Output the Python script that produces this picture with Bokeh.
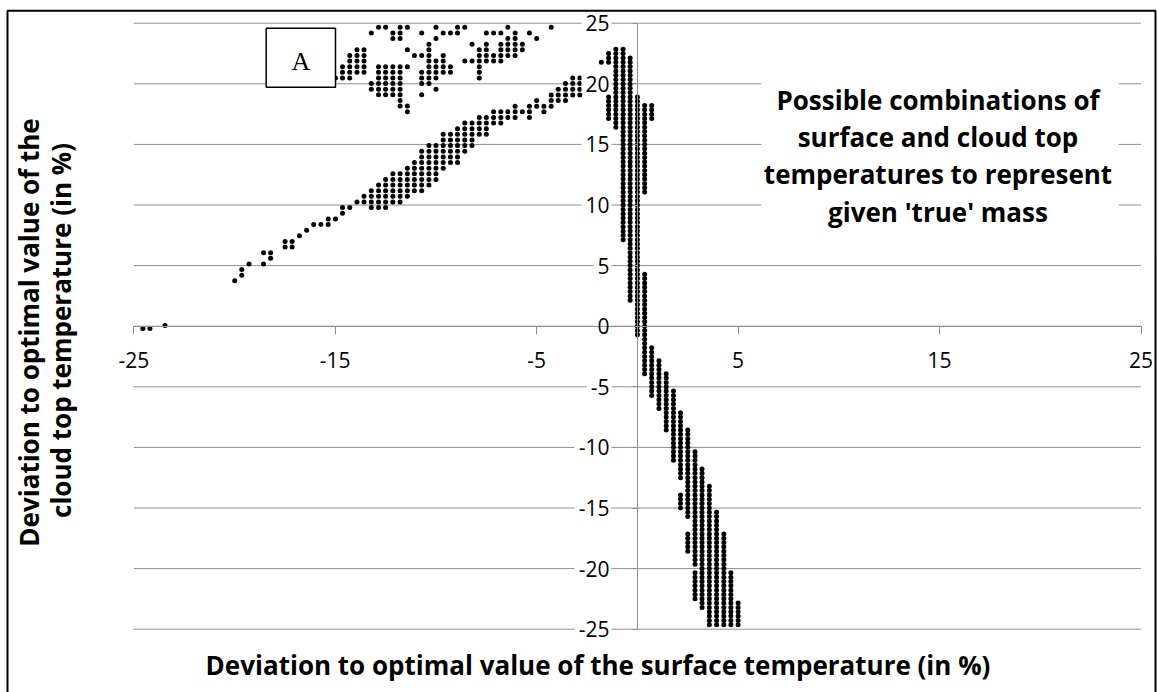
import math
from bokeh.plotting import figure
from bokeh.models import Range1d, FixedTicker
from bokeh.core.properties import value
from bokeh.embed import file_html
from bokeh.resources import INLINE

# ------------------------------------------------------------------ data
x_ticks = [-25, -15, -5, 5, 15, 25]
x_tick_labels = ["-25", "-15", "-5", "5", "15", "25"]
y_ticks = [-25, -20, -15, -10, -5, 0, 5, 10, 15, 20, 25]
y_tick_labels = ["-25", "-20", "-15", "-10", "-5", "0", "5", "10", "15", "20", "25"]

# steep band: runs of grid points per surface-temperature column (x, top y, bottom y)
steep_x = [-1.79, -1.43, -1.43, -1.07, -0.71, -0.36, 0.00, 0.36, 0.36, 0.71, 0.71,
           1.07, 1.43, 1.79, 2.14, 2.14, 2.50, 2.50, 2.86, 2.86, 3.21, 3.57, 3.93,
           4.29, 4.64, 5.00]
steep_top = [21.8, 22.5, 18.8, 22.9, 22.9, 22.0, 18.8, 18.2, 4.2, 18.2, -1.7,
             -2.7, -4.0, -5.4, -7.3, -13.8, -8.6, -17.0, -10.5, -20.3, -11.9, -13.3, -15.2,
             -17.0, -20.3, -23.0]
steep_bot = [21.8, 21.7, 17.0, 16.3, 7.0, 2.3, -0.6, 11.1, -3.8, 17.1, -5.6,
             -6.9, -8.4, -11.2, -12.6, -14.9, -15.7, -18.6, -19.7, -22.5, -23.3, -24.7, -24.7,
             -24.7, -24.7, -24.7]
STEEP_STEP = 0.357

# diagonal band: runs per column (x, top y, bottom y)
diag_x = [-19.99, -19.64, -19.28, -18.56, -18.56, -18.21, -17.49, -17.14, -16.78, -16.42,
          -16.07, -15.71, -15.35, -14.99, -14.64, -14.28, -13.92, -13.57, -13.21, -12.85,
          -12.50, -12.14, -11.78, -11.42, -11.07, -10.71, -10.35, -10.00, -9.64, -9.28,
          -8.93, -8.57, -8.21, -8.21, -7.85, -7.50, -7.14, -6.78, -6.43, -6.07,
          -5.71, -5.36, -5.00, -4.64, -4.28, -3.93, -3.57, -3.21, -2.86]
diag_top = [3.74, 4.67, 5.14, 5.14, 6.07, 6.07, 7.00, 7.00, 7.46, 7.93,
            8.39, 8.39, 8.86, 8.86, 9.79, 9.79, 10.25, 10.72, 11.18, 11.65,
            12.11, 12.58, 12.58, 13.04, 13.51, 14.44, 14.90, 14.90, 15.83, 15.83,
            16.30, 16.76, 16.76, 14.90, 17.23, 17.23, 17.69, 17.69, 17.69, 18.16,
            17.69, 18.16, 18.62, 18.16, 19.09, 19.55, 20.02, 20.48, 20.48]
diag_bot = [3.74, 4.21, 5.14, 5.14, 6.07, 5.60, 6.53, 6.53, 7.46, 7.93,
            8.39, 8.39, 8.39, 8.86, 9.32, 9.79, 10.25, 10.25, 9.79, 9.79,
            9.79, 10.25, 10.25, 10.72, 11.18, 11.18, 11.65, 12.11, 13.04, 13.51,
            13.51, 14.44, 15.37, 14.90, 15.83, 15.83, 16.76, 16.76, 17.23, 17.23,
            17.69, 17.23, 18.16, 17.69, 18.16, 18.62, 18.62, 19.09, 19.09]
DIAG_STEP = 0.465
DIAG_BASE = 3.74

# scattered upper cluster: one list of x values per row
upper_rows = [24.67, 24.20, 23.74, 23.27, 22.81, 22.34, 21.88, 21.41, 20.95, 20.48,
              20.02, 19.55, 19.09, 18.62, 18.16, 17.69]
upper_row_x = [
    [-12.85, -12.50, -11.78, -11.42, -10.00, -8.93, -8.57, -6.43, -4.28],
    [-13.21, -12.14, -11.78, -10.71, -9.64, -9.28, -8.93, -7.50, -7.14, -6.78, -6.07, -5.36],
    [-12.14, -11.78, -10.00, -6.43, -6.07, -5.00],
    [-10.35, -8.21, -7.50, -6.78, -6.43, -6.07, -5.71],
    [-13.92, -13.57, -11.42, -10.35, -7.85, -7.50, -6.78, -6.43, -6.07, -5.71],
    [-14.28, -13.92, -13.57, -11.07, -10.71, -10.35, -9.64, -7.85, -7.50, -7.14, -6.78, -6.43, -6.07],
    [-14.28, -13.92, -13.57, -10.35, -10.00, -9.64, -8.57, -8.21, -7.85, -7.50, -7.14, -6.78],
    [-14.64, -14.28, -13.92, -13.57, -12.85, -12.50, -12.14, -11.78, -11.42, -10.35, -10.00, -9.64, -9.28, -7.85],
    [-14.64, -14.28, -13.92, -13.57, -12.85, -12.50, -12.14, -11.78, -10.71, -10.35, -10.00, -9.64, -9.28, -7.85],
    [-14.99, -14.64, -14.28, -12.85, -12.50, -12.14, -11.78, -10.71, -10.35, -10.00, -7.85],
    [-13.21, -12.85, -12.50, -12.14, -11.78, -10.71, -10.35],
    [-13.21, -12.85, -12.50, -12.14, -11.78, -10.00],
    [-12.85, -12.50, -12.14, -11.78, -10.71],
    [-11.78],
    [-11.78, -11.42],
    [-11.42],
]

# isolated points near the left end of the x axis
lone_x = [-24.55, -24.20, -23.45]
lone_y = [-0.2, -0.2, 0.05]

x_title = "Deviation to optimal value of the surface temperature (in %)"
y_title_lines = ["Deviation to optimal value of the", "cloud top temperature (in %)"]
note_lines = ["Possible combinations of", "surface and cloud top",
              "temperatures to represent", "given 'true' mass"]
panel_tag = "A"


def expand_runs(xs, tops, bots, step, base):
    out_x, out_y = [], []
    for x, t, b in zip(xs, tops, bots):
        n0 = int(round((b - base) / step))
        n1 = int(round((t - base) / step))
        for n in range(n0, n1 + 1):
            out_x.append(x)
            out_y.append(round(base + n * step, 3))
    return out_x, out_y


sx, sy = expand_runs(steep_x, steep_top, steep_bot, STEEP_STEP, 0.0)
dx, dy = expand_runs(diag_x, diag_top, diag_bot, DIAG_STEP, DIAG_BASE)
ux, uy = [], []
for yv, xs in zip(upper_rows, upper_row_x):
    for xv in xs:
        ux.append(xv)
        uy.append(yv)
pts_x = sx + dx + ux + lone_x
pts_y = sy + dy + uy + lone_y

# ------------------------------------------------------------------ layout
W, H = 1158, 692
PX_L, PX_R = 133.3, 1140.5      # screen x of x=-25 and x=25
PY_T, PY_B = 22.7, 628.7        # screen y of y=25 and y=-25
KX = (PX_R - PX_L) / (x_ticks[-1] - x_ticks[0])
KY = (PY_B - PY_T) / (y_ticks[-1] - y_ticks[0])
X0 = x_ticks[0] - PX_L / KX
X1 = x_ticks[-1] + (W - PX_R) / KX
Y1 = y_ticks[-1] + PY_T / KY
Y0 = y_ticks[0] - (H - PY_B) / KY
TXT_SHIFT = 9  # px correction for text baseline placement


def at_x(px):
    return X0 + px / KX


def at_y(py):
    return Y1 - py / KY


p = figure(width=W, height=H, x_range=Range1d(X0, X1), y_range=Range1d(Y0, Y1),
           output_backend="svg", toolbar_location=None, min_border=0,
           outline_line_color=None, background_fill_color="white",
           border_fill_color="white")
p.grid.visible = False

GRID = "#8f8f8f"
FONT = "Open Sans"
TITLE_SIZE = "26px"
TICK_SIZE = "21px"

# horizontal gridlines
p.segment(x0=[x_ticks[0]] * len(y_ticks), x1=[x_ticks[-1]] * len(y_ticks),
          y0=y_ticks, y1=y_ticks, line_color=GRID, line_width=1)

# data points
p.scatter(pts_x, pts_y, marker="circle", size=5.0, fill_color="black", line_color=None)

# white backing behind the y tick labels (they interrupt gridlines in the original)
lab_right = 611
lab_w = [6 + 12 * sum(c.isdigit() for c in s) + (7 if s.startswith("-") else 0)
         for s in y_tick_labels]
p.quad(left=[at_x(lab_right - w) for w in lab_w], right=[at_x(lab_right)] * len(lab_w),
       top=[t + 9 / KY for t in y_ticks], bottom=[t - 9 / KY for t in y_ticks],
       fill_color="white", line_color=None)

# tag box "A"
p.quad(left=[at_x(265.7)], right=[at_x(335.0)], top=[at_y(27.7)], bottom=[at_y(86.7)],
       fill_color="white", line_color="black", line_width=1.5)
p.text(x=[at_x(300.4)], y=[at_y(70.0 - TXT_SHIFT)], text=[panel_tag], text_align="center",
       text_baseline="alphabetic", text_font=value("Liberation Serif"),
       text_font_size=value("26px"), text_color="black")

# note box
p.quad(left=[at_x(761)], right=[at_x(1118)], top=[at_y(68)], bottom=[at_y(240)],
       fill_color="white", line_color=None)
p.text(x=[at_x(937.5)] * 4, y=[at_y(v - TXT_SHIFT) for v in (108, 145, 182, 220)],
       text=note_lines, text_align="center", text_baseline="alphabetic",
       text_font=value(FONT), text_font_style="bold", text_font_size=value(TITLE_SIZE),
       text_color="black")

# axis titles
p.text(x=[at_x(597.5)], y=[at_y(673 - TXT_SHIFT)], text=[x_title], text_align="center",
       text_baseline="alphabetic", text_font=value(FONT), text_font_style="bold",
       text_font_size=value(TITLE_SIZE), text_color="black")
p.text(x=[at_x(37 - TXT_SHIFT), at_x(69 - TXT_SHIFT)], y=[at_y(332), at_y(330)],
       text=y_title_lines, angle=math.pi / 2, text_align="center",
       text_baseline="alphabetic", text_font=value(FONT), text_font_style="bold",
       text_font_size=value(TITLE_SIZE), text_color="black")

# outer frame
p.quad(left=[at_x(7)], right=[at_x(1155)], top=[at_y(10.3)], bottom=[Y0 - 5],
       fill_color=None, line_color="black", line_width=2)

# axes crossing at the origin
xa = p.xaxis[0]
xa.fixed_location = 0
xa.bounds = (x_ticks[0], x_ticks[-1])
xa.ticker = FixedTicker(ticks=x_ticks)
xa.major_label_overrides = {t: l for t, l in zip(x_ticks, x_tick_labels)}
xa.major_tick_out = 8
xa.major_tick_in = 0
xa.major_label_standoff = 18

ya = p.yaxis[0]
ya.fixed_location = 0
ya.bounds = (y_ticks[0], y_ticks[-1])
ya.ticker = FixedTicker(ticks=y_ticks)
ya.major_label_overrides = {t: l for t, l in zip(y_ticks, y_tick_labels)}
ya.major_tick_out = 5
ya.major_tick_in = 0
ya.major_label_standoff = 23

for ax in (xa, ya):
    ax.axis_line_color = GRID
    ax.major_tick_line_color = GRID
    ax.minor_tick_line_color = None
    ax.major_label_text_font = FONT
    ax.major_label_text_font_size = TICK_SIZE
    ax.major_label_text_color = "black"

open("out.html", "w").write(file_html(p, INLINE))
